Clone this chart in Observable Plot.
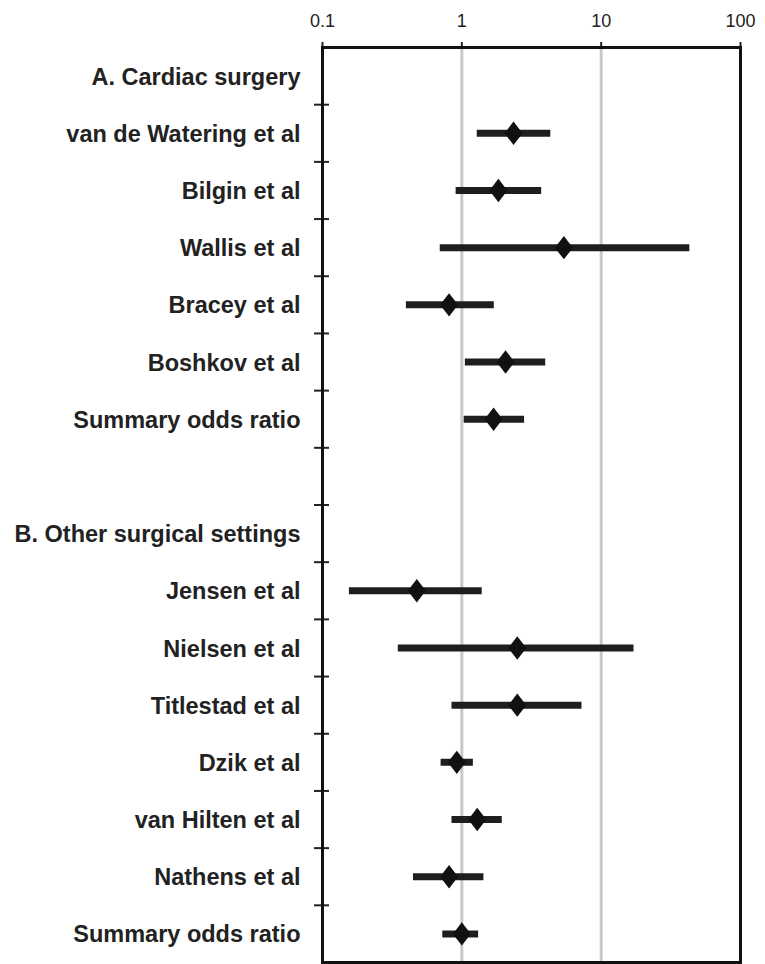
<!DOCTYPE html>
<html>
<head>
<meta charset="utf-8">
<script src="https://cdn.jsdelivr.net/npm/d3@7"></script>
<script src="https://cdn.jsdelivr.net/npm/@observablehq/plot@0.6"></script>
<style>
  html, body { margin: 0; padding: 0; background: #fff; }
  #chart { width: 765px; height: 964px; }
</style>
</head>
<body>
<div id="chart"></div>
<script>
// Row labels (top to bottom)
const rowLabels = [
  "A. Cardiac surgery",
  "van de Watering et al",
  "Bilgin et al",
  "Wallis et al",
  "Bracey et al",
  "Boshkov et al",
  "Summary odds ratio",
  "",
  "B. Other surgical settings",
  "Jensen et al",
  "Nielsen et al",
  "Titlestad et al",
  "Dzik et al",
  "van Hilten et al",
  "Nathens et al",
  "Summary odds ratio"
];
// Odds ratios and 95% CI (null = header / blank row)
const oddsRatio = [null, 2.35, 1.83, 5.4, 0.81, 2.06, 1.69, null, null, 0.475, 2.5, 2.5, 0.92, 1.29, 0.81, 1.0];
const ciLow     = [null, 1.29, 0.91, 0.70, 0.40, 1.06, 1.04, null, null, 0.156, 0.35, 0.85, 0.71, 0.85, 0.45, 0.73];
const ciHigh    = [null, 4.35, 3.74, 43.3, 1.71, 4.0, 2.82, null, null, 1.40, 17.2, 7.28, 1.21, 1.95, 1.44, 1.32];
const xTicks = [0.1, 1, 10, 100];
const gridValues = [1, 10];

const rows = rowLabels.map((label, i) => ({i, label, or: oddsRatio[i], lo: ciLow[i], hi: ciHigh[i]}));
const studies = rows.filter(d => d.or != null);
const boundaries = d3.range(rowLabels.length - 1).map(i => i + 0.5);

const diamond = {
  draw(context, size) {
    const r = Math.sqrt(size / Math.PI);
    const hh = r * 1.3;
    context.moveTo(0, -hh);
    context.lineTo(r, 0);
    context.lineTo(0, hh);
    context.lineTo(-r, 0);
    context.closePath();
  }
};

const marginLeft = 322, marginRight = 25, W = 765;
const plotW = W - marginLeft - marginRight;

const chart = Plot.plot({
  width: W,
  height: 964,
  marginLeft,
  marginRight,
  marginTop: 47,
  marginBottom: 2,
  style: {fontFamily: "'Liberation Sans', Arial, sans-serif", background: "#fff", color: "#222"},
  x: {type: "log", domain: [0.1, 100]},
  y: {domain: [-0.5, rowLabels.length - 0.5], reverse: true, axis: null},
  marks: [
    Plot.ruleX(gridValues, {stroke: "#c8c8c8", strokeWidth: 3}),
    Plot.axisX({anchor: "top", ticks: xTicks, tickFormat: d => String(d), tickSize: 6, tickPadding: 15, fontSize: 18, strokeWidth: 2, label: null}),
    Plot.tickY(boundaries, {y: d => d, stroke: "#222", strokeWidth: 2, insetLeft: -8, insetRight: plotW - 7}),
    Plot.ruleY(studies, {y: "i", x1: "lo", x2: "hi", stroke: "#1e1e1e", strokeWidth: 7}),
    Plot.dot(studies, {y: "i", x: "or", r: 9, symbol: diamond, fill: "#111", stroke: "none"}),
    Plot.text(rows, {y: "i", text: "label", frameAnchor: "left", textAnchor: "end", dx: -22, dy: 1, fontSize: 23.5, fontWeight: "bold", fill: "#222", letterSpacing: -0.3}),
    Plot.frame({stroke: "#111", strokeWidth: 3})
  ]
});
document.getElementById("chart").append(chart);
</script>
</body>
</html>
